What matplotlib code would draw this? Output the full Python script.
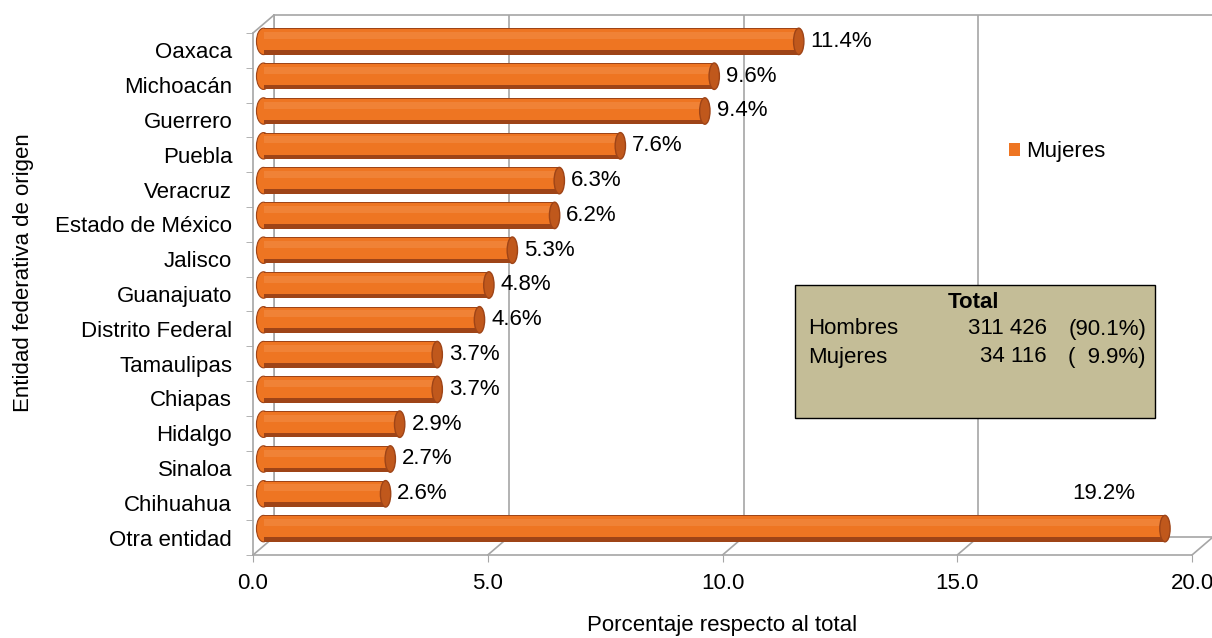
import matplotlib.pyplot as plt
from matplotlib.patches import ConnectionPatch, Rectangle, Ellipse

plt.rcParams['font.family'] = ['Liberation Sans', 'DejaVu Sans']

entidades = ["Oaxaca", "Michoacán", "Guerrero", "Puebla", "Veracruz",
             "Estado de México", "Jalisco", "Guanajuato", "Distrito Federal",
             "Tamaulipas", "Chiapas", "Hidalgo", "Sinaloa", "Chihuahua",
             "Otra entidad"]
porcentajes = [11.4, 9.6, 9.4, 7.6, 6.3, 6.2, 5.3, 4.8, 4.6, 3.7, 3.7,
               2.9, 2.7, 2.6, 19.2]
x_ticks = [0, 5, 10, 15, 20]

sexos = ["Hombres", "Mujeres"]
totales = ["311 426", "34 116"]
shares = ["(90.1%)", "(  9.9%)"]

FS = 16
GRAY = "#A6A6A6"
ORANGE = "#EE7522"
LIGHT = "#F38B45"
DARK = "#9E4417"
CAP = "#C0581C"

W, H = 1212, 638
fig = plt.figure(figsize=(W / 100, H / 100), dpi=100)

# front plane of the pseudo-3D box
fl, fb = 253 / W, 1 - 555 / H
fw, fh = (1192 - 253) / W, (555 - 33) / H
dx, dy = 21 / W, 18 / H

back = fig.add_axes([fl + dx, fb + dy, fw, fh], zorder=0)
front = fig.add_axes([fl, fb, fw, fh], zorder=1)
bars = fig.add_axes([fl + dx / 2, fb + dy / 2, fw, fh], zorder=2)

n = len(entidades)
ypos = list(range(n))
for a in (back, front, bars):
    a.set_xlim(0, 20)
    a.set_ylim(n - 0.5, -0.5)

# back wall with grid
back.set_xticks(x_ticks)
back.set_yticks([])
back.tick_params(labelbottom=False, length=0)
back.grid(axis='x', color=GRAY, lw=1.2)
for s in back.spines.values():
    s.set_color(GRAY)
    s.set_linewidth(1.2)

# front axes: ticks and labels
front.patch.set_visible(False)
front.set_xticks(x_ticks, labels=[f"{t:.1f}" for t in x_ticks])
front.set_yticks(ypos, labels=entidades)
front.set_yticks([i - 0.5 for i in range(n + 1)], minor=True)
front.tick_params(axis='y', which='major', length=0, labelsize=FS, pad=15)
front.tick_params(axis='y', which='minor', length=5, color=GRAY)
front.tick_params(axis='x', length=5, color=GRAY, labelsize=FS, pad=8)
for side in ("top", "right"):
    front.spines[side].set_visible(False)
for side in ("left", "bottom"):
    front.spines[side].set_color(GRAY)
    front.spines[side].set_linewidth(1.2)
front.set_xlabel("Porcentaje respecto al total", fontsize=FS, labelpad=15)
front.set_ylabel("Entidad federativa de origen", fontsize=FS, labelpad=15)
front.yaxis.label.set_y(0.54)

# depth lines joining front and back planes
for t in x_ticks:
    fig.add_artist(ConnectionPatch(xyA=(t, n - 0.5), coordsA=front.transData,
                                   xyB=(t, n - 0.5), coordsB=back.transData,
                                   color=GRAY, lw=1.2))
fig.add_artist(ConnectionPatch(xyA=(0, -0.5), coordsA=front.transData,
                               xyB=(0, -0.5), coordsB=back.transData,
                               color=GRAY, lw=1.2))

# bars with a cylinder look
bars.axis('off')
bh = 0.76
bars.barh(ypos, porcentajes, height=bh, color=DARK, zorder=2)
bars.barh([y - 0.05 for y in ypos], porcentajes, height=0.6,
          color=ORANGE, zorder=3)
bars.barh([y - 0.17 for y in ypos], porcentajes, height=0.2,
          color=LIGHT, zorder=3, alpha=0.6)
for y, v in zip(ypos, porcentajes):
    bars.add_patch(Ellipse((0, y), 0.3, bh, facecolor=ORANGE,
                           edgecolor=DARK, lw=0.8, zorder=1, clip_on=False))
    bars.add_patch(Ellipse((v, y), 0.22, bh, facecolor=CAP,
                           edgecolor=DARK, lw=1, zorder=4))
    if v > 15:
        bars.text(v - 1.3, y - 1, f"{v:.1f}%", ha='center', va='center',
                  fontsize=FS)
    else:
        bars.text(v + 0.25, y, f"{v:.1f}%", ha='left', va='center',
                  fontsize=FS)

# legend
handle = Rectangle((0, 0), 1, 1, facecolor=ORANGE)
fig.legend([handle], ["Mujeres"], loc='center left',
           bbox_to_anchor=(989 / W, 1 - 152 / H), frameon=False,
           fontsize=FS, handlelength=0.5, handleheight=0.5,
           handletextpad=0.25)

# total box
fig.add_artist(Rectangle((795 / W, 1 - 418 / H), 360 / W, 133 / H,
                         transform=fig.transFigure, facecolor="#C4BD97",
                         edgecolor="black", lw=1, zorder=5))
fig.text(974 / W, 1 - 302 / H, "Total", ha='center', va='center',
         fontsize=FS, fontweight='bold', zorder=6)
for k, (s, t, p) in enumerate(zip(sexos, totales, shares)):
    yy = 1 - (329 + 28 * k) / H
    fig.text(808 / W, yy, s, ha='left', va='center', fontsize=FS, zorder=6)
    fig.text(1047 / W, yy, t, ha='right', va='center', fontsize=FS, zorder=6)
    fig.text(1146 / W, yy, p, ha='right', va='center', fontsize=FS, zorder=6)

fig.savefig("out.png", dpi=100)
